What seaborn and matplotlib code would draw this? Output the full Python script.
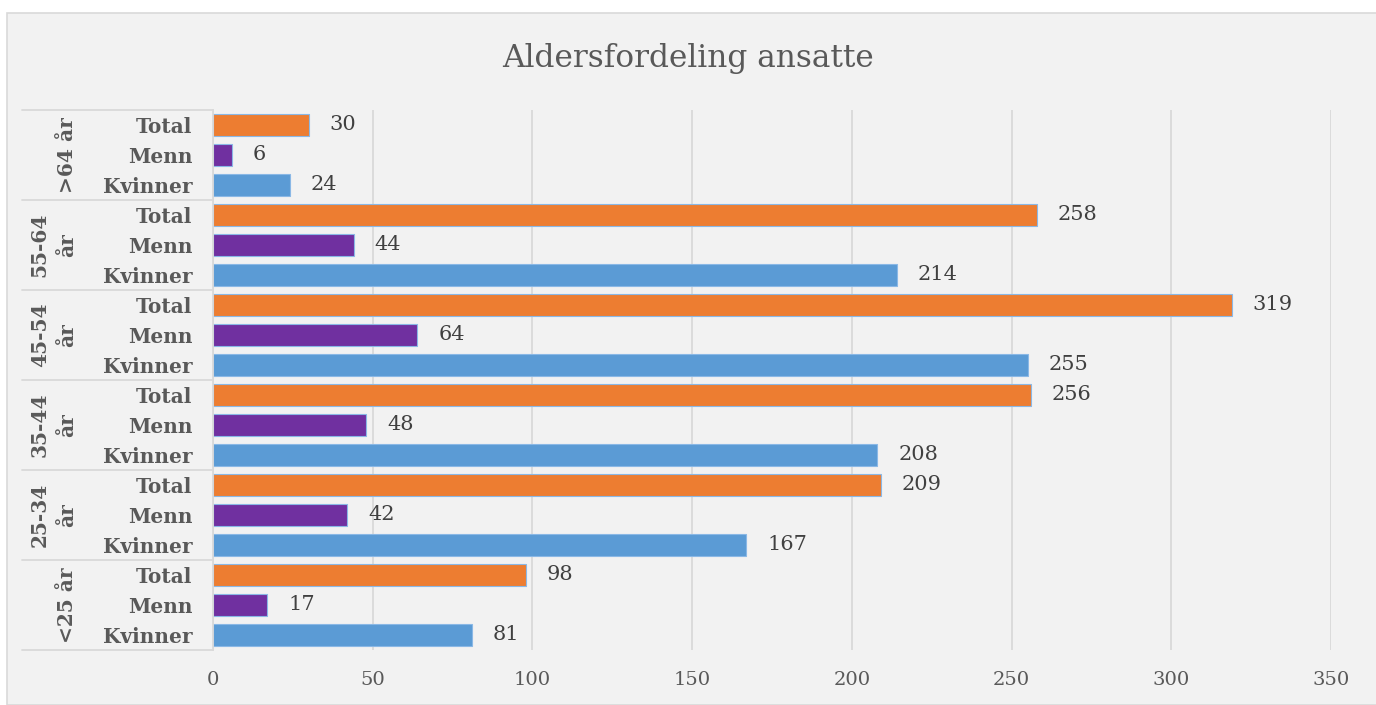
import pandas as pd
import matplotlib.pyplot as plt
import matplotlib.transforms as mtransforms
from matplotlib.patches import Rectangle
import seaborn as sns

# Data (top group first)
age_groups = [">64 år", "55-64\når", "45-54\når", "35-44\når", "25-34\når", "<25 år"]
genders = ["Total", "Menn", "Kvinner"]
total = [30, 258, 319, 256, 209, 98]
menn = [6, 44, 64, 48, 42, 17]
kvinner = [24, 214, 255, 208, 167, 81]

colors = {"Total": "#ED7D31", "Menn": "#7030A0", "Kvinner": "#5B9BD5"}

rows = []
for i, g in enumerate(age_groups):
    for gender, vals in zip(genders, [total, menn, kvinner]):
        rows.append({"row": f"{gender}|{i}", "gender": gender, "group": g, "value": vals[i]})
df = pd.DataFrame(rows)

sns.set_theme(style="white")
plt.rcParams["font.family"] = ["DejaVu Serif"]

fig = plt.figure(figsize=(13.76, 7.05), dpi=100, facecolor="white")
# chart area background with light border
fig.patches.append(Rectangle((7 / 1376, 0), 1.0, 1 - 13 / 705, transform=fig.transFigure,
                             facecolor="#f2f2f2", edgecolor="#d9d9d9", lw=1.2, zorder=-10))

ax = fig.add_axes([213 / 1376, 1 - 650 / 705, 1118 / 1376, 540 / 705])
ax.set_facecolor("#f2f2f2")

sns.barplot(data=df, y="row", x="value", hue="gender", palette=colors, dodge=False,
            order=df["row"].tolist(), hue_order=genders, orient="h", width=0.72,
            saturation=1, edgecolor="#8ab8e6", linewidth=0.8, legend=False, ax=ax)

for c in ax.containers:
    ax.bar_label(c, padding=15, fontsize=15, color="#404040")

ax.set_xlim(0, 350)
ax.set_xticks(range(0, 351, 50))
ax.set_ylim(len(df) - 0.5, -0.5)
ax.xaxis.grid(True, color="#d9d9d9", lw=1.3)
ax.set_axisbelow(True)
for s in ["top", "right", "bottom"]:
    ax.spines[s].set_visible(False)
ax.spines["left"].set_color("#d9d9d9")
ax.spines["left"].set_linewidth(1.3)

ax.set_yticks(range(len(df)))
ax.set_yticklabels(df["gender"], fontsize=14.5, fontweight="bold", color="#595959")
ax.tick_params(axis="y", length=0, pad=15)
ax.tick_params(axis="x", length=0, pad=15, labelsize=14, labelcolor="#595959")
ax.set_xlabel("")
ax.set_ylabel("")

# group labels and separators in the category area
trans = mtransforms.blended_transform_factory(ax.transAxes, ax.transData)
x0 = -(213 - 22) / 1118
xr = -(213 - 77) / 1118
for i, g in enumerate(age_groups):
    top = i * 3 - 0.5
    ax.plot([x0, 0], [top, top], transform=trans, color="#d9d9d9", lw=1.3, clip_on=False)
    ax.text(xr, i * 3 + 1, g, transform=trans, rotation=90, ha="right", va="center",
            fontsize=14.5, fontweight="bold", color="#595959", multialignment="center",
            linespacing=1.45)
bottom = len(df) - 0.5
ax.plot([x0, 0], [bottom, bottom], transform=trans, color="#d9d9d9", lw=1.3, clip_on=False)

fig.text(0.5, 1 - 58 / 705, "Aldersfordeling ansatte", ha="center", va="center",
         fontsize=22.5, color="#595959")

fig.savefig("out.png", dpi=100, facecolor=fig.get_facecolor())
